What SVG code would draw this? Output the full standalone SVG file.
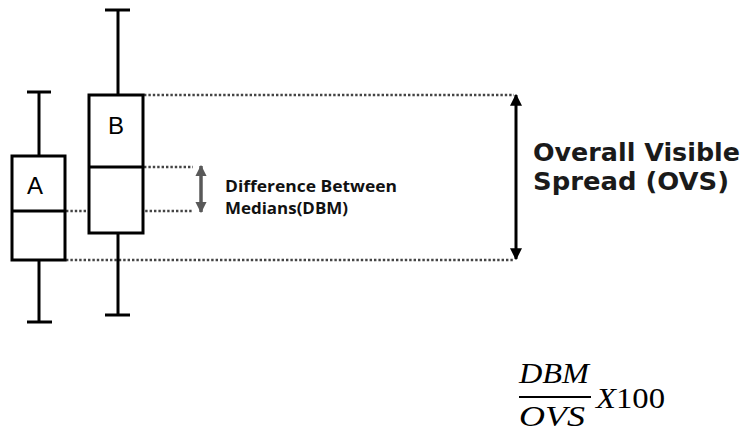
<svg xmlns="http://www.w3.org/2000/svg" width="742" height="432" viewBox="0 0 742 432">
<style>
.box{fill:#fff;stroke:#000;stroke-width:3}
.wh{stroke:#000;stroke-width:3;fill:none}
.dot{stroke:#444;stroke-width:2.5;stroke-dasharray:2.4 2;fill:none}
.lbl{font-family:"Liberation Sans",Arial,sans-serif;font-size:24px;fill:#000}
.dbm{font-family:"Open Sans","DejaVu Sans",sans-serif;font-weight:bold;font-size:15.8px;fill:#111}
.ovs{font-family:"DejaVu Sans",Verdana,sans-serif;font-weight:bold;font-size:25.5px;fill:#1a1a1a}
.math{font-family:"Liberation Serif","Times New Roman",serif;font-size:29px;fill:#000}
</style>
<defs>
<marker id="ahBlack" viewBox="0 0 10 10" refX="9" refY="5" markerWidth="4" markerHeight="4" orient="auto-start-reverse"><path d="M0,0 L10,5 L0,10 z" fill="#000"/></marker>
<marker id="ahGray" viewBox="0 0 10 10" refX="9" refY="5" markerWidth="3.2" markerHeight="3.2" orient="auto-start-reverse"><path d="M0,0 L10,5 L0,10 z" fill="#595959"/></marker>
</defs>
<g id="connectors">
<line class="dot" x1="144" y1="95" x2="514" y2="95"/>
<line class="dot" x1="66" y1="260" x2="514" y2="260"/>
<line class="dot" x1="144" y1="167" x2="193" y2="167"/>
<line class="dot" x1="66" y1="211" x2="193" y2="211"/>
<line x1="201" y1="166" x2="201" y2="212" stroke="#595959" stroke-width="3.5" marker-start="url(#ahGray)" marker-end="url(#ahGray)"/>
<line x1="516" y1="95" x2="516" y2="259" stroke="#000" stroke-width="3" marker-start="url(#ahBlack)" marker-end="url(#ahBlack)"/>
</g>
<g id="boxA">
<line class="wh" x1="39" y1="92" x2="39" y2="156"/>
<line class="wh" x1="27" y1="92" x2="51" y2="92"/>
<line class="wh" x1="39" y1="260" x2="39" y2="322"/>
<line class="wh" x1="27" y1="322" x2="52" y2="322"/>
<rect class="box" x="12" y="156" width="53" height="104"/>
<line class="wh" x1="12" y1="211" x2="65" y2="211"/>
<text class="lbl" x="35" y="194" text-anchor="middle">A</text>
</g>
<g id="boxB">
<line class="wh" x1="118" y1="10" x2="118" y2="95"/>
<line class="wh" x1="105" y1="10" x2="130" y2="10"/>
<line class="wh" x1="118" y1="233" x2="118" y2="315"/>
<line class="wh" x1="105" y1="315" x2="130" y2="315"/>
<rect class="box" x="89" y="95" width="54" height="138"/>
<line class="wh" x1="89" y1="167" x2="143" y2="167"/>
<text class="lbl" x="116" y="134" text-anchor="middle">B</text>
</g>
<g id="dbmLabel">
<text class="dbm" x="225" y="191.5" textLength="172" lengthAdjust="spacingAndGlyphs">Difference Between</text>
<text class="dbm" x="225" y="213.5" textLength="123" lengthAdjust="spacingAndGlyphs">Medians(DBM)</text>
</g>
<g id="ovsLabel">
<text class="ovs" x="533" y="161" textLength="207" lengthAdjust="spacingAndGlyphs">Overall Visible</text>
<text class="ovs" x="533" y="190" textLength="196" lengthAdjust="spacingAndGlyphs">Spread (OVS)</text>
</g>
<g id="formula">
<text class="math" x="519" y="383" font-style="italic" textLength="70" lengthAdjust="spacingAndGlyphs">DBM</text>
<line x1="519" y1="397" x2="591" y2="397" stroke="#000" stroke-width="2"/>
<text class="math" x="519" y="426" font-style="italic" textLength="66" lengthAdjust="spacingAndGlyphs">OVS</text>
<text class="math" x="596" y="408" textLength="69" lengthAdjust="spacingAndGlyphs"><tspan font-style="italic">X</tspan>100</text>
</g>
</svg>
